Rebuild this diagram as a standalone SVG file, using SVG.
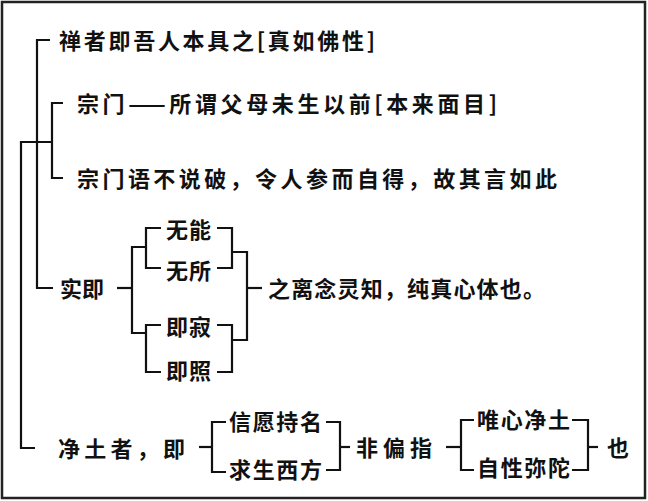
<svg xmlns="http://www.w3.org/2000/svg" width="648" height="501" viewBox="0 0 648 501">
<style>
text{font-family:"Noto Sans CJK SC","Noto Sans",sans-serif;font-weight:bold;font-size:22px;fill:#111}
.l{fill:none;stroke:#111;stroke-width:2.2}
</style>
<rect x="0" y="0" width="648" height="501" fill="#fff"/>
<rect x="2" y="2" width="643" height="496" fill="none" stroke="#222" stroke-width="2.5"/>
<g id="connectors" class="l">
<path d="M35,448 H21 V142 H52"/>
<path d="M50,40 H37 V288 H53"/>
<path d="M63,103 H52 V178 H63"/>
<path d="M117,288 H132"/>
<path d="M147,247 H132 V333 H147"/>
<path d="M161,228 H146 V268 H161"/>
<path d="M161,325 H146 V372 H161"/>
<path d="M217,228 H232 V268 H217"/>
<path d="M217,325 H232 V372 H217"/>
<path d="M232,252 H247 V340 H232"/>
<path d="M247,288 H262"/>
<path d="M199,447 H212"/>
<path d="M226,422 H212 V472 H226"/>
<path d="M326,422 H340 V470 H326"/>
<path d="M340,447 H350"/>
<path d="M446,447 H461"/>
<path d="M474,420 H461 V470 H474"/>
<path d="M572,420 H588 V470 H572"/>
<path d="M588,447 H598"/>
</g>
<g id="n1"><text x="59" y="49" textLength="316">禅者即吾人本具之[真如佛性]</text></g>
<g id="n2"><text x="77" y="112" textLength="420">宗门——所谓父母未生以前[本来面目]</text></g>
<g id="n3"><text x="77" y="187" textLength="480">宗门语不说破，令人参而自得，故其言如此</text></g>
<g id="n4"><text x="60" y="297" textLength="44">实即</text></g>
<g id="n5"><text x="166" y="238" textLength="45">无能</text></g>
<g id="n6"><text x="166" y="279" textLength="45">无所</text></g>
<g id="n7"><text x="166" y="335" textLength="45">即寂</text></g>
<g id="n8"><text x="166" y="379" textLength="45">即照</text></g>
<g id="n9"><text x="268" y="297" textLength="277">之离念灵知，纯真心体也。</text></g>
<g id="n10"><text x="58" y="457" textLength="127">净土者，即</text></g>
<g id="n11"><text x="229" y="430" textLength="93">信愿持名</text></g>
<g id="n12"><text x="229" y="478" textLength="93">求生西方</text></g>
<g id="n13"><text x="356" y="456" textLength="76">非偏指</text></g>
<g id="n14"><text x="477" y="428" textLength="93">唯心净土</text></g>
<g id="n15"><text x="477" y="476" textLength="93">自性弥陀</text></g>
<g id="n16"><text x="607" y="456" textLength="23">也</text></g>
</svg>
